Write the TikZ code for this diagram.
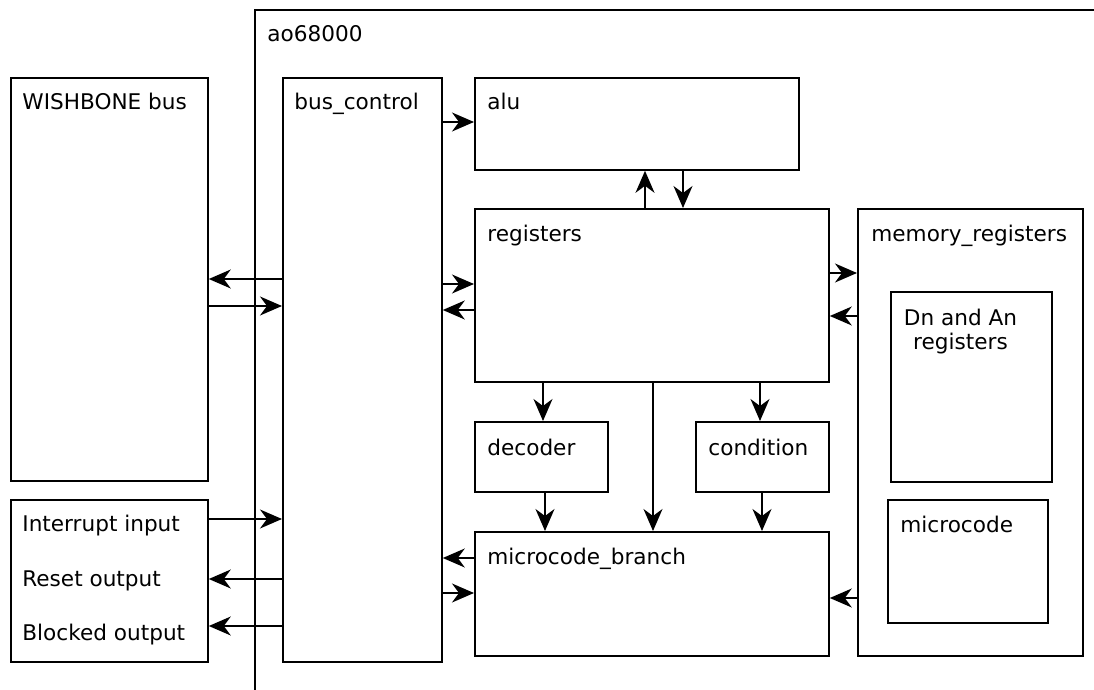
\documentclass[tikz,border=0pt]{standalone}
\usepackage{fontspec}
\setmainfont{DejaVu Sans}
\usetikzlibrary{arrows.meta,positioning}

\tikzset{
  block/.style={draw, line width=0.9pt, anchor=north west, inner sep=0pt},
  blocktext/.style={anchor=base west, inner sep=0pt, font=\fontsize{10.8}{12}\selectfont},
  link/.style={line width=0.75pt, -{Stealth[length=11pt,width=9.5pt,inset=3.5pt]}},
}

\begin{document}
\begin{tikzpicture}[x=0.5pt, y=-0.5pt]
 \useasboundingbox (0,0) rectangle (1094,690);

    % draw ao68000 frame (runs off the page)
    \coordinate (aobottom) at (255,690);
    \coordinate (aocorner) at (255,10);
    \coordinate (aoright) at (1094,10);
    \draw[line width=0.9pt] (aobottom) -- (aocorner) -- (aoright);
    \node[blocktext] (ao_label) at (267,42) {ao68000};

    % draw outside blocks
    \node[block, minimum width=98.5pt, minimum height=201.5pt] (wb) at (10,77) {};
    \node[blocktext] (wb_label) at (22,110) {WISHBONE bus};
    \node[block, minimum width=98.5pt, minimum height=81pt] (irq) at (10,499) {};
    \node[blocktext] (irq_in) at (22,531) {Interrupt input};
    \node[blocktext] (rst_out) at (22,586) {Reset output};
    \node[blocktext] (blk_out) at (22,640) {Blocked output};

    % draw inside blocks
    \node[block, minimum width=79.5pt, minimum height=292pt] (bus) at (282,77) {};
    \node[blocktext] (bus_label) at (294,110) {bus\_control};
    \node[block, minimum width=162pt, minimum height=46pt] (alu) at (474,77) {};
    \node[blocktext] (alu_label) at (487,110) {alu};
    \node[block, minimum width=177pt, minimum height=86.5pt] (reg) at (474,208) {};
    \node[blocktext] (reg_label) at (487,242) {registers};
    \node[block, minimum width=66.5pt, minimum height=35pt] (dec) at (474,421) {};
    \node[blocktext] (dec_label) at (487,455) {decoder};
    \node[block, minimum width=66.5pt, minimum height=35pt] (cond) at (695,421) {};
    \node[blocktext] (cond_label) at (708,455) {condition};
    \node[block, minimum width=177pt, minimum height=62pt] (mcb) at (474,531) {};
    \node[blocktext] (mcb_label) at (487,564) {microcode\_branch};
    \node[block, minimum width=112.5pt, minimum height=223.5pt] (mem) at (857,208) {};
    \node[blocktext] (mem_label) at (871,242) {memory\_registers};
    \node[block, minimum width=80.5pt, minimum height=95pt] (dnan) at (890,291) {};
    \node[inner sep=0pt, anchor=north, align=center, font=\fontsize{10.8}{12}\selectfont] (dnan_label) at (960.5,309) {Dn and An\\registers};
    \node[block, minimum width=80pt, minimum height=61.5pt] (mcode) at (887,499) {};
    \node[blocktext] (mcode_label) at (900,532) {microcode};

    % draw WISHBONE and control lines
    \draw[link] (bus.west |- 0,279) -- (wb.east |- 0,279);
    \draw[link] (wb.east |- 0,306) -- (bus.west |- 0,306);
    \draw[link] (irq.east |- 0,519) -- (bus.west |- 0,519);
    \draw[link] (bus.west |- 0,579) -- (irq.east |- 0,579);
    \draw[link] (bus.west |- 0,626) -- (irq.east |- 0,626);

    % draw bus_control links
    \draw[link] (bus.east |- 0,122) -- (alu.west |- 0,122);
    \draw[link] (bus.east |- 0,284) -- (reg.west |- 0,284);
    \draw[link] (reg.west |- 0,310) -- (bus.east |- 0,310);
    \draw[link] (mcb.west |- 0,558) -- (bus.east |- 0,558);
    \draw[link] (bus.east |- 0,593) -- (mcb.west |- 0,593);

    % draw alu and registers links
    \draw[link] (reg.north -| 645,0) -- (alu.south -| 645,0);
    \draw[link] (alu.south -| 683,0) -- (reg.north -| 683,0);
    \draw[link] (reg.east |- 0,273) -- (mem.west |- 0,273);
    \draw[link] (mem.west |- 0,316) -- (reg.east |- 0,316);
    \draw[link] (mem.west |- 0,598) -- (mcb.east |- 0,598);

    % draw branch inputs
    \draw[link] (reg.south -| 543,0) -- (dec.north -| 543,0);
    \draw[link] (reg.south -| 760,0) -- (cond.north -| 760,0);
    \draw[link] (reg.south -| 653,0) -- (mcb.north -| 653,0);
    \draw[link] (dec.south -| 545,0) -- (mcb.north -| 545,0);
    \draw[link] (cond.south -| 762,0) -- (mcb.north -| 762,0);
\end{tikzpicture}
\end{document}
